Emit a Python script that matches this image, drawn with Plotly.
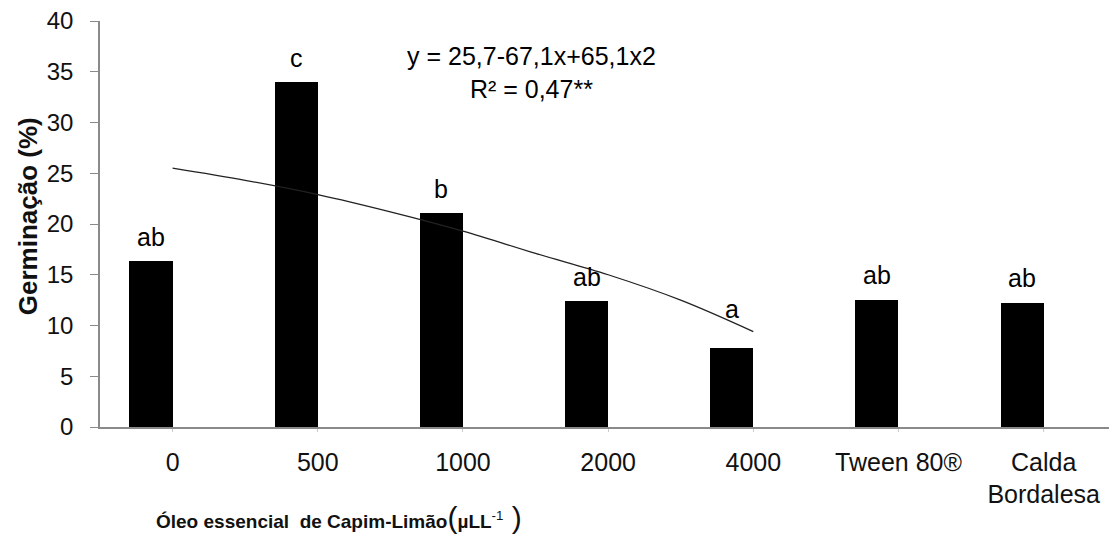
import plotly.graph_objects as go

# ---- data ----
categories = ["0", "500", "1000", "2000", "4000", "Tween 80®", "Calda<br>Bordalesa"]
germination = [16.4, 34.0, 21.1, 12.4, 7.8, 12.5, 12.2]
letters = ["ab", "c", "b", "ab", "a", "ab", "ab"]
label_shift = [24, 24, 24, 24, 39, 25, 25]

# trend line (category units 0..4)
trend_x = [0, 0.5, 1, 1.5, 2, 2.5, 3, 3.5, 4]
trend_y = [25.5, 24.3, 22.9, 21.2, 19.3, 17.1, 15.0, 12.5, 9.4]

equation_lines = ["y = 25,7-67,1x+65,1x2", "R² = 0,47**"]

BAR_W = 0.297
FONT = "Liberation Sans, Arial, sans-serif"
AXIS_COLOR = "#8a8a8a"

xpos = list(range(len(categories)))

fig = go.Figure()
fig.add_trace(go.Bar(
    x=xpos, y=germination, width=BAR_W, offset=-BAR_W,
    marker=dict(color="black", line=dict(width=0)),
    showlegend=False, hoverinfo="skip",
))
fig.add_trace(go.Scatter(
    x=trend_x, y=trend_y, mode="lines", line=dict(color="#222222", width=1.3, shape="spline"),
    showlegend=False, hoverinfo="skip",
))

annotations = []
for xi, v, lab, sh in zip(xpos, germination, letters, label_shift):
    annotations.append(dict(
        x=xi - BAR_W / 2, y=v, xref="x", yref="y", text=lab, showarrow=False,
        yshift=sh, yanchor="middle", xanchor="center",
        font=dict(family=FONT, size=25, color="black"),
    ))

annotations.append(dict(
    x=0.428, y=0.872, xref="paper", yref="paper",
    text="<br>".join(equation_lines), showarrow=False, align="center",
    xanchor="center", yanchor="middle",
    font=dict(family=FONT, size=25, color="black"),
))
annotations.append(dict(
    x=-0.071, y=0.52, xref="paper", yref="paper", text="<b>Germinação (%)</b>",
    textangle=-90, showarrow=False, xanchor="center", yanchor="middle",
    font=dict(family=FONT, size=26, color="#111111"),
))
annotations.append(dict(
    x=0.054, y=-0.222, xref="paper", yref="paper",
    text="<b>Óleo essencial  de Capim-Limão</b><span style='font-size:30px'>(</span><b>µLL</b><sup>-1</sup><span style='font-size:30px'> )</span>",
    showarrow=False, xanchor="left", yanchor="middle",
    font=dict(family=FONT, size=19, color="#111111"),
))

fig.update_layout(
    width=1109, height=539,
    margin=dict(l=100, r=0, t=21, b=112, pad=0, autoexpand=False),
    paper_bgcolor="white", plot_bgcolor="white",
    bargap=0,
    annotations=annotations,
    xaxis=dict(
        range=[-0.5, 6.45], tickmode="array", tickvals=xpos, ticktext=categories,
        automargin=False,
        showgrid=False, zeroline=False, showline=True, linecolor=AXIS_COLOR, linewidth=1.5,
        ticks="outside", ticklen=3, tickcolor="#cccccc", ticklabelstandoff=9,
        tickfont=dict(family=FONT, size=25, color="#111111"),
    ),
    yaxis=dict(
        range=[0, 40], tickmode="array", tickvals=[0, 5, 10, 15, 20, 25, 30, 35, 40],
        automargin=False,
        showgrid=False, zeroline=False, showline=True, linecolor=AXIS_COLOR, linewidth=1.5,
        ticks="outside", ticklen=8, tickcolor=AXIS_COLOR, ticklabelstandoff=12,
        tickfont=dict(family=FONT, size=24, color="#111111"),
    ),
)

fig.write_html(
    "out.html",
    config={"displayModeBar": False},
    post_script="document.body.style.margin='0px'; document.body.style.overflow='hidden';",
)
